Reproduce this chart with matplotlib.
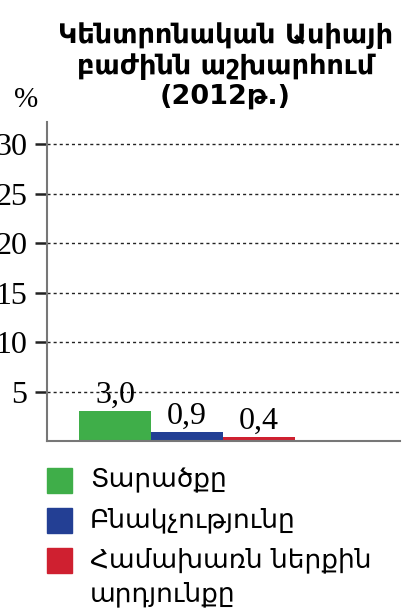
import matplotlib.pyplot as plt
from matplotlib.patches import Rectangle

title = "Կենտրոնական Ասիայի\nբաժինն աշխարհում\n(2012թ.)"
categories = ["Տարածքը", "Բնակչությունը", "Համախառն ներքին\nարդյունքը"]
values = [3.0, 0.9, 0.4]
value_labels = ["3,0", "0,9", "0,4"]
colors = ["#3fae49", "#233f94", "#cf2030"]
yticks = [5, 10, 15, 20, 25, 30]

fig = plt.figure(figsize=(4.07, 6.11), dpi=100)
ax = fig.add_axes([0.1155, 0.278, 0.868, 0.522])

x = list(range(len(values)))
ax.bar(x, values, width=1.0, color=colors)
for xi, v, lab in zip(x, values, value_labels):
    ax.text(xi, v + 0.15, lab, ha="center", va="bottom",
            fontsize=23, family="Liberation Serif")

ax.set_xlim(-0.944, 3.958)
ax.set_ylim(0, 32.2)
ax.set_yticks(yticks)
ax.set_yticklabels([str(t) for t in yticks], fontsize=23, family="Liberation Serif")
ax.set_xticks([])
ax.tick_params(axis="y", direction="out", length=9, width=1.8, pad=5, color="#222222")
ax.yaxis.grid(True, linestyle=(0, (2.2, 2.2)), color="#222222", linewidth=1)
ax.set_axisbelow(True)
for s in ["top", "right"]:
    ax.spines[s].set_visible(False)
for s in ["left", "bottom"]:
    ax.spines[s].set_color("#777777")
    ax.spines[s].set_linewidth(1.5)

fig.text(0.553, 1 - 22 / 611, title, ha="center", va="top", fontsize=19.5,
         fontweight="bold", family="DejaVu Sans", linespacing=1.2)
fig.text(26 / 407, 1 - 100 / 611, "%", ha="center", va="center", fontsize=21,
         family="Liberation Serif")

# legend
W, H = 407, 611
for i, (lab, c) in enumerate(zip(categories, colors)):
    top = 468 + i * 40
    fig.add_artist(Rectangle((47 / W, (H - top - 25) / H), 25 / W, 25 / H,
                             transform=fig.transFigure, color=c))
    fig.text(90 / W, (H - top + 1) / H, lab, ha="left", va="top",
             fontsize=19, family="DejaVu Sans", linespacing=1.4)

fig.savefig("out.png", dpi=100)
